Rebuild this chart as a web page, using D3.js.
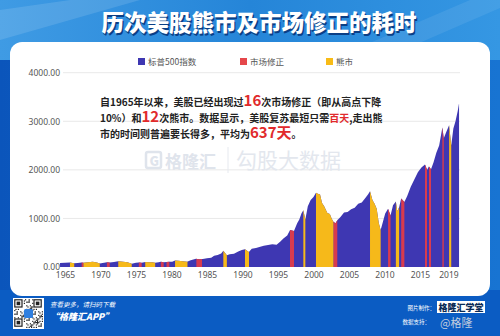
<!DOCTYPE html>
<html><head><meta charset="utf-8">
<script src="https://cdn.jsdelivr.net/npm/d3@7"></script>
<style>
html,body{margin:0;padding:0;background:#0f62c6;}
svg{display:block;font-family:"Noto Sans CJK SC","Noto Sans",sans-serif;}
</style></head><body>
<svg id="c" width="500" height="336"></svg>
<script>
// ---------- data ----------
const title = "历次美股熊市及市场修正的耗时";
const legendLabels = ["标普500指数", "市场修正", "熊市"];
const yTicks = [0, 1000, 2000, 3000, 4000];
const xTicks = [1965, 1970, 1975, 1980, 1985, 1990, 1995, 2000, 2005, 2010, 2015, 2019];
// S&P 500 index (year, value)
const spYears = [1964.3,1965.0,1965.7,1966.3,1966.8,1967.35,1967.6,1968.2,1968.9,1969.5,1969.9,1970.5,1970.9,1971.3,1971.9,1972.5,1973.2,1973.8,1974.4,1975.0,1975.4,1975.8,1976.3,1976.8,1977.3,1977.7,1978.2,1978.5,1978.9,1979.3,1979.7,1980.1,1980.5,1981.0,1981.6,1982.2,1982.7,1983.45,1983.9,1984.4,1985.0,1985.6,1986.0,1986.5,1987.0,1987.3,1987.8,1988.2,1988.8,1989.4,1989.9,1990.35,1990.9,1991.3,1991.9,1992.5,1993.0,1993.6,1994.2,1994.8,1995.3,1995.8,1996.3,1996.7,1997.25,1997.7,1998.0,1998.3,1998.57,1998.85,1999.2,1999.6,2000.0,2000.35,2000.6,2000.92,2001.2,2001.5,2001.95,2002.3,2002.55,2002.8,2003.1,2003.35,2003.8,2004.3,2004.8,2005.3,2005.8,2006.3,2006.8,2007.3,2007.7,2007.96,2008.3,2008.6,2008.9,2009.2,2009.46,2009.8,2010.1,2010.5,2010.85,2011.2,2011.6,2011.8,2012.06,2012.35,2012.8,2013.2,2013.7,2014.2,2014.7,2015.2,2015.7,2016.0,2016.25,2016.55,2016.9,2017.3,2017.7,2018.15,2018.35,2018.7,2019.1,2019.4,2019.7,2020.0,2020.3,2020.5];
const spValues = [84,86,92,76,80,95,90,96,108,95,72,85,100,94,104,118,110,100,68,85,94,86,105,100,96,88,98,106,96,102,110,108,135,130,118,108,140,168,158,165,180,190,230,245,280,335,240,260,275,320,350,365,310,375,390,415,435,455,470,460,520,590,650,760,740,900,980,1100,1170,980,1250,1380,1440,1527,1510,1490,1320,1250,1110,1090,1000,930,900,960,1030,1120,1130,1190,1220,1300,1330,1420,1500,1560,1380,1300,1200,900,760,940,1100,1200,1060,1270,1350,1150,1230,1410,1340,1460,1650,1800,1950,2050,2110,2000,2070,2010,2150,2350,2500,2870,2650,2780,2920,2500,2850,3000,3200,3370];
// market corrections (red)
const corrStart = [1967.35,1970.9,1975.4,1978.5,1979.3,1983.5,1996.7,2002.8,2010.5,2012.35,2015.7,2016.25,2018.15];
const corrEnd   = [1967.6,1971.3,1975.8,1978.9,1979.7,1984.3,1997.25,2003.35,2010.85,2012.8,2016.0,2016.55,2018.35];
// bear markets (yellow)
const bearStart = [1965.7,1967.6,1972.5,1976.3,1980.5,1987.3,1990.35,1998.57,2000.35,2007.96,2011.6,2019.1];
const bearEnd   = [1966.3,1969.9,1974.4,1977.7,1982.25,1987.8,1990.9,1998.85,2002.8,2009.46,2012.06,2019.4];

// ---------- drawing ----------
const svg = d3.select("#c");
const defs = svg.append("defs");
const COL_BLUE = "#3e37b2", COL_RED = "#d83b4e", COL_YEL = "#f6b91a";

// background
const hg = defs.append("linearGradient").attr("id","hg").attr("x1","0").attr("x2","1").attr("y1","0").attr("y2","0");
hg.append("stop").attr("offset","0").attr("stop-color","#3f9be4");
hg.append("stop").attr("offset","0.5").attr("stop-color","#2585d8");
hg.append("stop").attr("offset","1").attr("stop-color","#3597e3");
const sg = defs.append("linearGradient").attr("id","sg").attr("x1","0").attr("x2","1").attr("y1","0").attr("y2","0");
sg.append("stop").attr("offset","0").attr("stop-color","#0b55bb");
sg.append("stop").attr("offset","1").attr("stop-color","#1874d2");
svg.append("rect").attr("width",500).attr("height",336).attr("fill","url(#sg)");
svg.append("rect").attr("width",500).attr("height",60).attr("fill","url(#hg)");
svg.append("path").attr("d","M0,10 L70,0 L140,0 L0,40 Z").attr("fill","#ffffff").attr("opacity",0.12);
svg.append("path").attr("d","M330,60 L470,0 L500,0 L500,8 L380,60 Z").attr("fill","#ffffff").attr("opacity",0.08);
svg.append("rect").attr("x",0).attr("y",290).attr("width",500).attr("height",46).attr("fill","#0b5cc3");

// card
svg.append("rect").attr("x",10).attr("y",42).attr("width",480).attr("height",254).attr("rx",12).attr("fill","#ffffff");

// title
svg.append("text").attr("x",259).attr("y",31).attr("text-anchor","middle").attr("font-size",22.5).attr("font-weight",900)
  .attr("fill","#0b3f86").attr("transform","translate(1.2,1.5)").text(title);
svg.append("text").attr("x",259).attr("y",31).attr("text-anchor","middle").attr("font-size",22.5).attr("font-weight",900)
  .attr("fill","#ffffff").text(title);

// scales
const x = d3.scaleLinear().domain([1965, 2015]).range([65, 420]);
const y = d3.scaleLinear().domain([0, 4000]).range([267, 72.7]);

// grid
svg.append("g").selectAll("line").data(yTicks.filter(d=>d>0)).join("line")
  .attr("x1",63).attr("x2",460).attr("y1",d=>y(d)).attr("y2",d=>y(d))
  .attr("stroke","#e2e2e2").attr("stroke-width",0.8);

// watermark
const wm = svg.append("g").attr("fill","#dfe4ec");
wm.append("rect").attr("x",146).attr("y",152).attr("width",15).attr("height",16).attr("rx",2).attr("fill","none").attr("stroke","#dfe4ec").attr("stroke-width",2.5);
wm.append("text").attr("x",149.5).attr("y",165.5).attr("font-size",13).attr("font-weight",900).text("G");
wm.append("text").attr("x",165).attr("y",168).attr("font-size",17).attr("font-weight",700).text("格隆汇");
wm.append("line").attr("x1",228).attr("x2",228).attr("y1",147).attr("y2",173).attr("stroke","#e6e9ef").attr("stroke-width",1);
wm.append("text").attr("x",236).attr("y",168).attr("font-size",21).attr("font-weight",400).attr("fill","#e3e7ee").text("勾股大数据");

// data
const data = spYears.map((t,i)=>[t, spValues[i]]);
const area = d3.area().x(d=>x(d[0])).y0(y(0)).y1(d=>y(d[1]));
svg.append("path").datum(data).attr("d",area).attr("fill",COL_BLUE);

function bands(starts, ends, color, id){
  starts.forEach((s,i)=>{
    const cid = id+i;
    defs.append("clipPath").attr("id",cid).append("rect")
      .attr("x",x(s)).attr("width",Math.max(1.2, x(ends[i])-x(s))).attr("y",0).attr("height",336);
    svg.append("path").datum(data).attr("d",area).attr("fill",color).attr("clip-path",`url(#${cid})`);
  });
}
bands(corrStart, corrEnd, COL_RED, "cr");
bands(bearStart, bearEnd, COL_YEL, "br");

// axes
const yAxis = svg.append("g").attr("transform","translate(63,0)")
  .call(d3.axisLeft(y).tickValues(yTicks).tickFormat(d3.format(".2f")).tickSize(0).tickPadding(3));
yAxis.select(".domain").remove();
yAxis.selectAll("text").attr("font-size",8.5).attr("fill","#555").attr("font-family","'Noto Sans','DejaVu Sans',sans-serif");
const xAxis = svg.append("g").attr("transform",`translate(0,${y(0)})`)
  .call(d3.axisBottom(x).tickValues(xTicks).tickFormat(d=>String(d)).tickSize(0).tickPadding(5));
xAxis.select(".domain").remove();
xAxis.selectAll("text").attr("font-size",8.5).attr("fill","#555").attr("font-family","'Noto Sans','DejaVu Sans',sans-serif");

// legend
const legCols = [COL_BLUE, "#e5474b", "#f8bb16"];
const legX = [138, 240, 326];
legendLabels.forEach((l,i)=>{
  svg.append("rect").attr("x",legX[i]).attr("y",58).attr("width",7).attr("height",7).attr("fill",legCols[i]);
  svg.append("text").attr("x",legX[i]+10).attr("y",64.5).attr("font-size",8.5).attr("fill","#555").text(l);
});

// annotation
const ann = svg.append("g").attr("font-size",10).attr("font-weight",700).attr("fill","#222");
const RED = "#e12a2c";
const l1 = ann.append("text").attr("x",100).attr("y",106);
l1.append("tspan").text("自1965年以来，美股已经出现过");
l1.append("tspan").attr("fill",RED).attr("font-size",15).text("16");
l1.append("tspan").text("次市场修正（即从高点下降");
const l2 = ann.append("text").attr("x",100).attr("y",122);
l2.append("tspan").text("10%）和");
l2.append("tspan").attr("fill",RED).attr("font-size",15).text("12");
l2.append("tspan").text("次熊市。数据显示，美股复苏最短只需");
l2.append("tspan").attr("fill",RED).text("百天");
l2.append("tspan").text(",走出熊");
const l3 = ann.append("text").attr("x",100).attr("y",138);
l3.append("tspan").text("市的时间则普遍要长得多，平均为");
l3.append("tspan").attr("fill",RED).attr("font-size",15).text("637天");
l3.append("tspan").text("。");

// footer
const qr = svg.append("g").attr("transform","translate(13,298)");
qr.append("rect").attr("width",31).attr("height",31).attr("fill","#fff");
const m = 1.2;
for(let r=0;r<24;r++) for(let c=0;c<24;c++){
  const f = ((r*7 + c*13 + (r*c)%5) % 3 === 0);
  const inFinder = (r<8&&c<8)||(r<8&&c>15)||(r>15&&c<8);
  if(f && !inFinder) qr.append("rect").attr("x",1.2+c*m).attr("y",1.2+r*m).attr("width",m).attr("height",m).attr("fill","#222");
}
[[1.2,1.2],[1.2+16*m,1.2],[1.2,1.2+16*m]].forEach(([a,b])=>{
  qr.append("rect").attr("x",a).attr("y",b).attr("width",7*m).attr("height",7*m).attr("fill","#222");
  qr.append("rect").attr("x",a+m).attr("y",b+m).attr("width",5*m).attr("height",5*m).attr("fill","#fff");
  qr.append("rect").attr("x",a+2*m).attr("y",b+2*m).attr("width",3*m).attr("height",3*m).attr("fill","#222");
});
qr.append("rect").attr("x",11).attr("y",11).attr("width",9).attr("height",9).attr("rx",1.5).attr("fill","#2f7fe0");

svg.append("text").attr("x",50).attr("y",307).attr("font-size",6.5).attr("font-style","italic").attr("fill","#fff").text("查看更多，请扫码下载");
svg.append("text").attr("x",50).attr("y",320).attr("font-size",9).attr("font-style","italic").attr("font-weight",900).attr("fill","#fff").text("“格隆汇APP”");

svg.append("text").attr("x",435).attr("y",310).attr("text-anchor","end").attr("font-size",5.5).attr("fill","#fff").text("图片制作：");
svg.append("rect").attr("x",437).attr("y",301).attr("width",48).attr("height",12).attr("fill","#fff");
svg.append("text").attr("x",461).attr("y",311).attr("text-anchor","middle").attr("font-size",9).attr("font-weight",900).attr("fill","#0b2a55").text("格隆汇学堂");
svg.append("text").attr("x",430).attr("y",324).attr("text-anchor","end").attr("font-size",5.5).attr("fill","#fff").text("数据支持：");
svg.append("text").attr("x",440).attr("y",327).attr("font-size",11).attr("fill","#d7dbe2").attr("opacity",0.9).text("@格隆");
</script>
</body></html>
